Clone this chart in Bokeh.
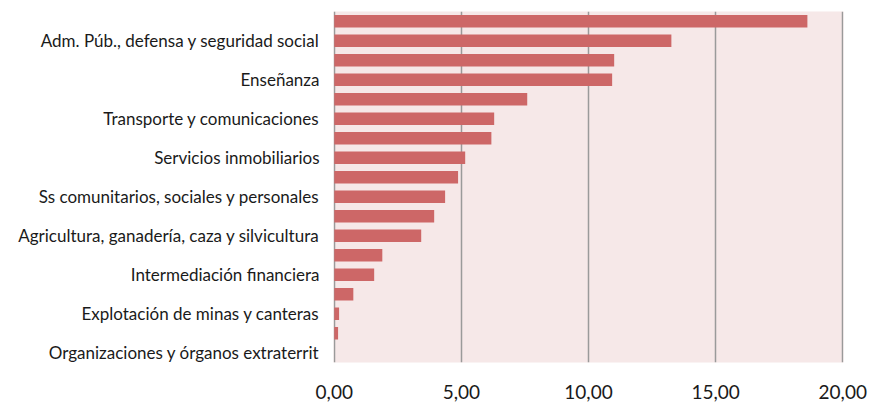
from bokeh.plotting import figure
from bokeh.models import Range1d, FixedTicker, ColumnDataSource
from bokeh.embed import file_html
from bokeh.resources import INLINE

# Data (top to bottom)
values = [18.61, 13.26, 11.01, 10.93, 7.59, 6.29, 6.18, 5.15, 4.87, 4.36,
          3.93, 3.42, 1.89, 1.57, 0.75, 0.19, 0.15, 0.0]
labels = ["", "Adm. Púb., defensa y seguridad social", "", "Enseñanza", "",
          "Transporte y comunicaciones", "", "Servicios inmobiliarios", "",
          "Ss comunitarios, sociales y personales", "",
          "Agricultura, ganadería, caza y silvicultura", "",
          "Intermediación financiera", "", "Explotación de minas y canteras", "",
          "Organizaciones y órganos extraterrit"]
x_ticks = [0, 5, 10, 15, 20]
x_tick_labels = ["0,00", "5,00", "10,00", "15,00", "20,00"]

n = len(values)
ypos = [n - i for i in range(n)]
src = ColumnDataSource(dict(y=ypos, v=values))

p = figure(width=870, height=403, output_backend="svg", toolbar_location=None,
           x_range=Range1d(-0.03, 20.03), y_range=Range1d(0.5, n + 0.5),
           min_border_left=333, min_border_right=27, min_border_top=11,
           min_border_bottom=41)
p.outline_line_color = None
p.background_fill_color = "#F6E8E8"
p.border_fill_color = "white"

p.hbar(y="y", right="v", left=0, height=0.65, source=src,
       fill_color="#CD6767", line_color=None)

# x axis
p.xaxis.ticker = FixedTicker(ticks=x_ticks)
p.xaxis.major_label_overrides = {t: l for t, l in zip(x_ticks, x_tick_labels)}
p.xaxis.axis_line_color = None
p.xaxis.major_tick_line_color = None
p.xaxis.minor_tick_line_color = None
p.xaxis.major_tick_out = 0
p.xaxis.major_tick_in = 0
p.xaxis.major_label_standoff = 22
p.xaxis.major_label_text_font = "Lato"
p.xaxis.major_label_text_font_size = "19px"
p.xaxis.major_label_text_color = "#1a1a1a"

# y axis
lab_pos = [ypos[i] for i in range(n) if labels[i]]
p.yaxis.ticker = FixedTicker(ticks=lab_pos)
p.yaxis.major_label_overrides = {ypos[i]: labels[i] for i in range(n) if labels[i]}
p.yaxis.axis_line_color = None
p.yaxis.major_tick_line_color = None
p.yaxis.minor_tick_line_color = None
p.yaxis.major_tick_out = 0
p.yaxis.major_tick_in = 0
p.yaxis.major_label_standoff = 14
p.yaxis.major_label_text_font = "Lato"
p.yaxis.major_label_text_font_size = "17px"
p.yaxis.major_label_text_color = "#1a1a1a"

p.xgrid.ticker = FixedTicker(ticks=x_ticks)
p.xgrid.grid_line_color = "#9a9a9a"
p.xgrid.grid_line_width = 1.5
p.ygrid.grid_line_color = None

open("out.html", "w").write(file_html(p, INLINE))
